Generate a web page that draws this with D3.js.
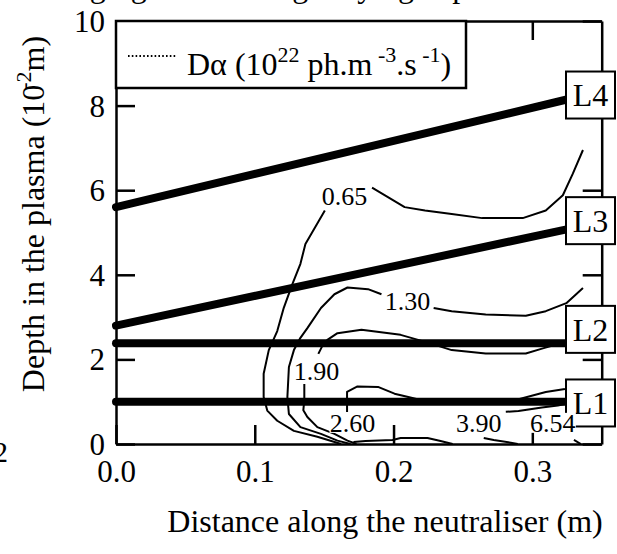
<!DOCTYPE html>
<html>
<head>
<meta charset="utf-8">
<script src="https://cdn.jsdelivr.net/npm/d3@7"></script>
<style>
  html, body { margin: 0; padding: 0; background: #fff; }
  svg { display: block; }
  text { font-family: 'Liberation Serif', 'Times New Roman', serif; fill: #000; }
</style>
</head>
<body>
<svg id="chart" width="617" height="554"></svg>
<script>
// ---------------- data ----------------
const xTicks = [0.0, 0.1, 0.2, 0.3];
const yTicks = [0, 2, 4, 6, 8, 10];
const xDomain = [0, 0.35];
const yDomain = [0, 10];

// beam lines (distance m, depth 1e-2 m)
const lineNames = ["L1", "L2", "L3", "L4"];
const lineStart = [1.0, 2.38, 2.8, 5.6];
const lineEnd   = [1.0, 2.38, 5.08, 8.15];
const lineEndX  = 0.3256;
const boxCenterY = [0.97, 2.71, 5.28, 8.25];

// contour levels and their traced pieces [x, y]
const levels = ["0.65", "1.30", "1.90", "2.60", "3.90", "6.54"];
const c065a = [[0.1845,6.06],[0.208,5.60],[0.2227,5.52],[0.2419,5.44],[0.2639,5.34],[0.2931,5.34],[0.3097,5.52],[0.322,5.88],[0.3292,6.39],[0.3365,6.95]];
const c065b = [[0.1505,5.52],[0.1365,4.73],[0.1329,4.26],[0.1271,3.78],[0.1209,3.22],[0.1162,2.67],[0.1101,2.22],[0.1064,1.66],[0.1064,1.11],[0.109,0.79],[0.1162,0.55],[0.1282,0.31],[0.1451,0.17],[0.1622,0.0]];
const c130a = [[0.2289,3.215],[0.2419,3.14],[0.2664,3.06],[0.2953,3.03],[0.3097,3.14],[0.3245,3.33],[0.3365,3.69]];
const c130b = [[0.1913,3.54],[0.1816,3.66],[0.1668,3.70],[0.1574,3.54],[0.1477,3.215],[0.1379,2.74],[0.1329,2.51],[0.1282,2.22],[0.1246,1.82],[0.1235,1.11],[0.1246,0.71],[0.1329,0.40],[0.1477,0.24],[0.1596,0.08],[0.169,0.0]];
const c190a = [[0.3235,2.41],[0.3076,2.26],[0.2953,2.14],[0.2664,2.14],[0.2419,2.22],[0.2253,2.39],[0.2051,2.58],[0.1769,2.70],[0.1596,2.62],[0.1523,2.46],[0.1487,2.32],[0.1458,2.13]];
const c190b = [[0.1357,1.42],[0.1357,1.04],[0.135,0.80],[0.1379,0.64],[0.1451,0.40],[0.1574,0.24],[0.1668,0.08],[0.1733,0.0]];
const c260a = [[0.1665,0.757],[0.1665,0.91],[0.1665,1.23],[0.174,1.36],[0.1888,1.35],[0.2007,1.19],[0.2106,1.11],[0.2195,1.04]];
const c260b = [[0.2881,1.04],[0.3097,1.23],[0.3235,1.30]];
const c260c = [[0.1711,0.05],[0.1798,0.07],[0.1993,0.095],[0.2051,0.14],[0.2245,0.14],[0.2339,0.07],[0.2426,0.0]];
const c390a = [[0.2809,0.76],[0.29,0.78],[0.3069,0.865],[0.3184,0.91],[0.3242,0.95]];
const c390b = [[0.265,0.14],[0.2722,0.095],[0.2845,0.03],[0.2895,0.0]];
const c654a = [[0.33,0.095],[0.335,0.0]];
const contourPieces = [c065a, c065b, c130a, c130b, c190a, c190b, c260a, c260b, c260c, c390a, c390b, c654a];
// label anchors for contour levels [x, y]
const labelX = [0.1646, 0.2101, 0.1444, 0.1704, 0.2614, 0.3148];
const labelY = [5.86, 3.40, 1.73, 0.50, 0.50, 0.50];

// ---------------- drawing ----------------
const svg = d3.select("#chart");
const x = d3.scaleLinear().domain(xDomain).range([116, 601.7]);
const y = d3.scaleLinear().domain(yDomain).range([444, 21]);
const FONT = "'Liberation Serif', 'Times New Roman', serif";

svg.append("defs").append("clipPath").attr("id", "plot")
  .append("rect").attr("x", x(0)).attr("y", y(10)).attr("width", x(0.35) - x(0)).attr("height", y(0) - y(10));

// title (cut off at top of image)
svg.append("text").attr("x", 40).attr("y", -3).attr("font-size", 32)
  .text("Imaging of Dα along varying depths");

const line = d3.line().x(d => x(d[0])).y(d => y(d[1]));

// contours
const cg = svg.append("g").attr("clip-path", "url(#plot)");
contourPieces.forEach(p => {
  cg.append("path").attr("d", line(p)).attr("fill", "none")
    .attr("stroke", "#000").attr("stroke-width", 2).attr("stroke-linejoin", "round");
});

// beam lines
lineNames.forEach((n, i) => {
  svg.append("path").attr("d", line([[0, lineStart[i]], [lineEndX, lineEnd[i]]]))
    .attr("fill", "none").attr("stroke", "#000").attr("stroke-width", 8).attr("stroke-linecap", "round");
});

// axes
const axW = 2.5;
function styleAxis(g) {
  g.select(".domain").attr("stroke-width", axW);
  g.selectAll(".tick line").attr("stroke-width", axW);
  g.selectAll(".tick text").attr("font-family", FONT).attr("font-size", 31).attr("fill", "#000");
}
const gx = svg.append("g").attr("transform", `translate(0,${y(0)})`)
  .call(d3.axisBottom(x).tickValues(xTicks).tickFormat(d3.format(".1f")).tickSizeInner(-19).tickSizeOuter(0).tickPadding(18));
styleAxis(gx);
gx.selectAll(".tick text").attr("dy", null).attr("y", 38);

const gxt = svg.append("g").attr("transform", `translate(0,${y(10)})`)
  .call(d3.axisTop(x).tickValues(xTicks).tickFormat("").tickSizeInner(-19).tickSizeOuter(0));
styleAxis(gxt);

const gy = svg.append("g").attr("transform", `translate(${x(0)},0)`)
  .call(d3.axisLeft(y).tickValues(yTicks).tickFormat(d3.format("d")).tickSizeInner(-19).tickSizeOuter(0).tickPadding(11));
styleAxis(gy);
gy.selectAll(".tick text").attr("dy", "0.34em");

const gyr = svg.append("g").attr("transform", `translate(${x(0.35)},0)`)
  .call(d3.axisRight(y).tickValues(yTicks).tickFormat("").tickSizeInner(-19).tickSizeOuter(0));
styleAxis(gyr);

// legend
svg.append("rect").attr("x", x(0)).attr("y", y(10)).attr("width", 350).attr("height", 67)
  .attr("fill", "#fff").attr("stroke", "#000").attr("stroke-width", axW);
svg.append("line").attr("x1", 128).attr("x2", 176).attr("y1", 56).attr("y2", 56)
  .attr("stroke", "#000").attr("stroke-width", 2).attr("stroke-dasharray", "1.6,2.2");
const lt = svg.append("text").attr("x", 187).attr("y", 75).attr("font-size", 32);
lt.append("tspan").text("Dα (10");
lt.append("tspan").attr("font-size", 22).attr("dy", -13).text("22");
lt.append("tspan").attr("dy", 13).text(" ph.m");
lt.append("tspan").attr("font-size", 22).attr("dy", -13).text(" -3");
lt.append("tspan").attr("dy", 13).text(".s");
lt.append("tspan").attr("font-size", 22).attr("dy", -13).text(" -1");
lt.append("tspan").attr("dy", 13).text(")");

// line label boxes
lineNames.forEach((n, i) => {
  const cy = y(boxCenterY[i]);
  svg.append("rect").attr("x", 566).attr("y", cy - 23.5).attr("width", 49).attr("height", 47)
    .attr("fill", "#fff").attr("stroke", "#000").attr("stroke-width", 2);
  svg.append("text").attr("x", 590.5).attr("y", cy).attr("dy", "0.35em").attr("text-anchor", "middle")
    .attr("font-size", 32).text(n);
});

// contour labels
levels.forEach((lv, i) => {
  const cx = x(labelX[i]), cy = y(labelY[i]);
  svg.append("rect").attr("x", cx - 23).attr("y", cy - 10).attr("width", 46).attr("height", 20).attr("fill", "#fff");
  svg.append("text").attr("x", cx).attr("y", cy).attr("dy", "0.36em").attr("text-anchor", "middle")
    .attr("font-size", 26).text(lv);
});

// axis titles
svg.append("text").attr("x", 385).attr("y", 532).attr("text-anchor", "middle").attr("font-size", 32)
  .text("Distance along the neutraliser (m)");
const yt = svg.append("text").attr("transform", "translate(44,214) rotate(-90)")
  .attr("text-anchor", "middle").attr("font-size", 32);
yt.append("tspan").text("Depth in the plasma (10");
yt.append("tspan").attr("font-size", 22).attr("dy", -13).attr("dx", -5).text("-2");
yt.append("tspan").attr("dy", 13).text("m)");

// stray glyph at lower left edge
svg.append("text").attr("x", 8).attr("y", 462).attr("text-anchor", "end").attr("font-size", 30).text("2");
</script>
</body>
</html>
